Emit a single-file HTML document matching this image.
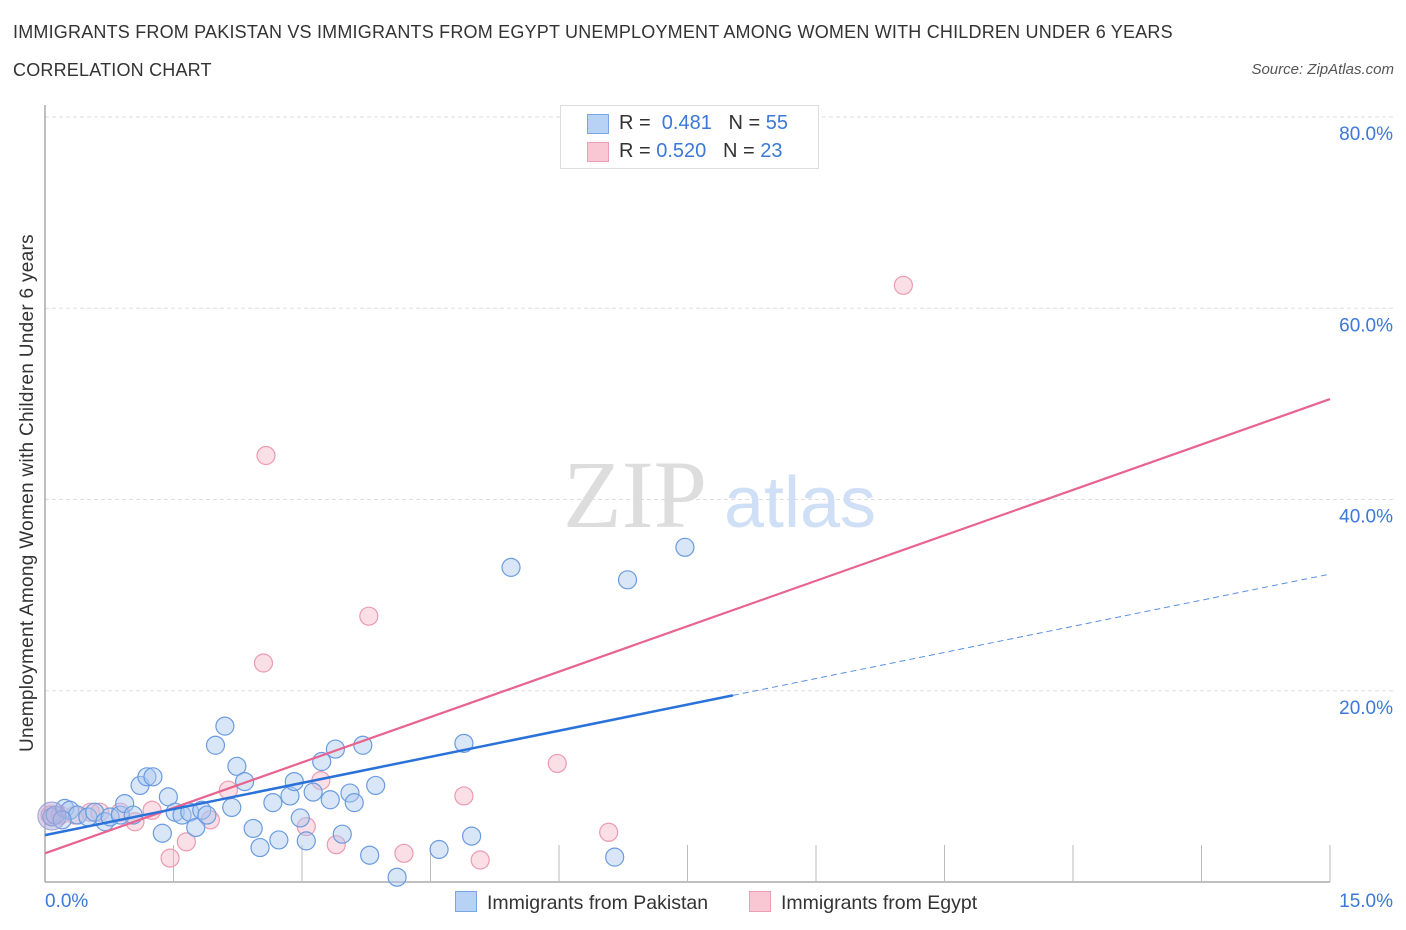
<!DOCTYPE html>
<html><head><meta charset="utf-8"><style>
body{margin:0;background:#fff;font-family:"Liberation Sans",sans-serif;}
#wrap{position:relative;width:1406px;height:930px;overflow:hidden;}
.t{position:absolute;white-space:nowrap;}
</style></head><body>
<div id="wrap">
<div class="t" style="left:13px;top:22px;font-size:18px;letter-spacing:0.2px;color:#333;">IMMIGRANTS FROM PAKISTAN VS IMMIGRANTS FROM EGYPT UNEMPLOYMENT AMONG WOMEN WITH CHILDREN UNDER 6 YEARS</div>
<div class="t" style="left:13px;top:60px;font-size:18px;letter-spacing:0.2px;color:#333;">CORRELATION CHART</div>
<div class="t" style="right:12px;top:61px;font-size:15px;color:#555;font-style:italic;">Source: ZipAtlas.com</div>
<svg id="svg" width="1406" height="930" style="position:absolute;left:0;top:0"></svg>
</div>
<script>
const pakX=[0.08,0.12,0.23,0.29,0.38,0.5,0.58,0.7,0.76,0.88,0.93,1.03,1.11,1.19,1.26,1.37,1.44,1.52,1.6,1.69,1.76,1.83,1.89,1.99,2.1,2.18,2.24,2.33,2.43,2.51,2.66,2.73,2.86,2.91,2.98,3.05,3.13,3.23,3.33,3.39,3.47,3.56,3.61,3.71,3.79,3.86,4.11,4.6,4.89,4.98,5.44,6.65,6.8,7.47,0.2];
const pakY=[6.8,7.0,7.7,7.5,7.0,6.8,7.3,6.3,6.8,7.0,8.2,7.0,10.1,11.0,11.0,5.1,8.9,7.3,7.0,7.3,5.7,7.5,7.0,14.3,16.3,7.8,12.1,10.5,5.6,3.6,8.3,4.4,9.0,10.5,6.7,4.3,9.4,12.6,8.6,13.9,5.0,9.3,8.3,14.3,2.8,10.1,0.5,3.4,14.5,4.8,32.9,2.6,31.6,35.0,6.5];
const egyX=[0.06,0.18,0.35,0.53,0.64,0.88,1.05,1.25,1.46,1.65,1.93,2.14,2.55,2.58,3.05,3.22,3.4,3.78,4.19,4.89,5.08,5.98,6.58,10.02];
const egyY=[7.0,7.0,7.0,7.3,7.3,7.3,6.3,7.5,2.5,4.2,6.5,9.6,22.9,44.6,5.8,10.6,3.9,27.8,3.0,9.0,2.3,12.4,5.2,62.4];
const pakLine=[4.9,32.2], pakSolidEnd=8.03, egyLine=[3.0,50.5];
const yTicks=[20,40,60,80];
const xTickVals=[1.5,3,4.5,6,7.5,9,10.5,12,13.5,15];

const S=document.getElementById('svg'),NS='http://www.w3.org/2000/svg';
const X0=45,X1=1330,Y0=882,Ytop=117;
const sx=v=>X0+v*(X1-X0)/15, sy=v=>Y0-v*(Y0-Ytop)/80;
function mk(tag,at){const e=document.createElementNS(NS,tag);for(const k in at)e.setAttribute(k,at[k]);S.appendChild(e);return e;}
for(const t of yTicks){
 const g=mk('line',{x1:X0,x2:1395,y1:sy(t),y2:sy(t),stroke:'#ddd','stroke-dasharray':'4,3'});
 
 
 const l=mk('text',{x:1393,y:sy(t)+23,'text-anchor':'end','font-size':19,fill:'#3b78d8','font-family':'Liberation Sans'});l.textContent=t.toFixed(1)+'%';
 
 
}
mk('line',{x1:X0,x2:X0,y1:105,y2:Y0,stroke:'#aaa','stroke-width':1.5});
mk('line',{x1:X0,x2:X1,y1:Y0,y2:Y0,stroke:'#aaa','stroke-width':1.5});
for(const t of xTickVals){const e=mk('line',{x1:sx(t),x2:sx(t),y1:845,y2:Y0,stroke:'#bbb'});
 
 }
const w1=mk('text',{x:635,y:527,'text-anchor':'middle','font-size':96,fill:'#ddd','font-family':'Liberation Serif'});w1.textContent='ZIP';


const w2=mk('text',{x:800,y:527,'text-anchor':'middle','font-size':72,fill:'#cfdff5','font-family':'Liberation Sans'});w2.textContent='atlas';


function pts(xs,ys,fill,stroke,name){xs.forEach((x,i)=>{const c=mk('circle',{cx:sx(x),cy:sy(ys[i]),r:9,fill:fill,'fill-opacity':0.45,stroke:stroke,'stroke-width':1.2});
 
 });}
pts(egyX,egyY,'#f7b8c8','#ec9ab0','egypt-point');
pts(pakX,pakY,'#aac8f0','#6a9be0','pakistan-point');
const big1=mk('circle',{cx:sx(0.08),cy:sy(6.9),r:14,fill:'#b0a8d8','fill-opacity':0.5,stroke:'#9aa0d8'});


const pl=(v)=>egyLine[0]+(egyLine[1]-egyLine[0])*v/15, bl=(v)=>pakLine[0]+(pakLine[1]-pakLine[0])*v/15;
const e1=mk('line',{x1:sx(0),y1:sy(pl(0)),x2:sx(15),y2:sy(pl(15)),stroke:'#e8648e','stroke-width':2.2});


const b1=mk('line',{x1:sx(0),y1:sy(bl(0)),x2:sx(pakSolidEnd),y2:sy(bl(pakSolidEnd)),stroke:'#2a72d8','stroke-width':2.5});


const b2=mk('line',{x1:sx(pakSolidEnd),y1:sy(bl(pakSolidEnd)),x2:sx(15),y2:sy(bl(15)),stroke:'#5a90e0','stroke-width':1,'stroke-dasharray':'6,4'});


</script>
<div class="t" style="left:45px;top:891px;font-size:19px;color:#3b78d8;">0.0%</div>
<div class="t" style="right:13px;top:891px;font-size:19px;color:#3b78d8;">15.0%</div>
<div class="t" style="left:28px;top:493px;font-size:19px;letter-spacing:0.3px;color:#333;transform:translate(-50%,-50%) rotate(-90deg);">Unemployment Among Women with Children Under 6 years</div>
<div style="position:absolute;left:560px;top:105px;width:257px;height:62px;border:1px solid #ddd;background:#fff;font-size:20px;">
 <div style="position:absolute;left:26px;top:8px;width:20px;height:18px;background:#b8d2f6;border:1px solid #7aa6e6;"></div>
 <div class="t" style="left:58px;top:6px;color:#333;">R = <span style="color:#3b78d8">&nbsp;0.481</span>&nbsp;&nbsp;&nbsp;N = <span style="color:#3b78d8">55</span></div>
 <div style="position:absolute;left:26px;top:36px;width:20px;height:18px;background:#f9c6d4;border:1px solid #eca0b6;"></div>
 <div class="t" style="left:58px;top:34px;color:#333;">R = <span style="color:#3b78d8">0.520</span>&nbsp;&nbsp;&nbsp;N = <span style="color:#3b78d8">23</span></div>
</div>
<div style="position:absolute;left:455px;top:891px;font-size:19.5px;color:#333;">
 <span style="display:inline-block;width:20px;height:19px;background:#b8d2f6;border:1px solid #7aa6e6;vertical-align:-3px;margin-right:10px;"></span>Immigrants from Pakistan</div>
<div style="position:absolute;left:749px;top:891px;font-size:19.5px;color:#333;">
 <span style="display:inline-block;width:20px;height:19px;background:#f9c6d4;border:1px solid #eca0b6;vertical-align:-3px;margin-right:10px;"></span>Immigrants from Egypt</div>
</body></html>
